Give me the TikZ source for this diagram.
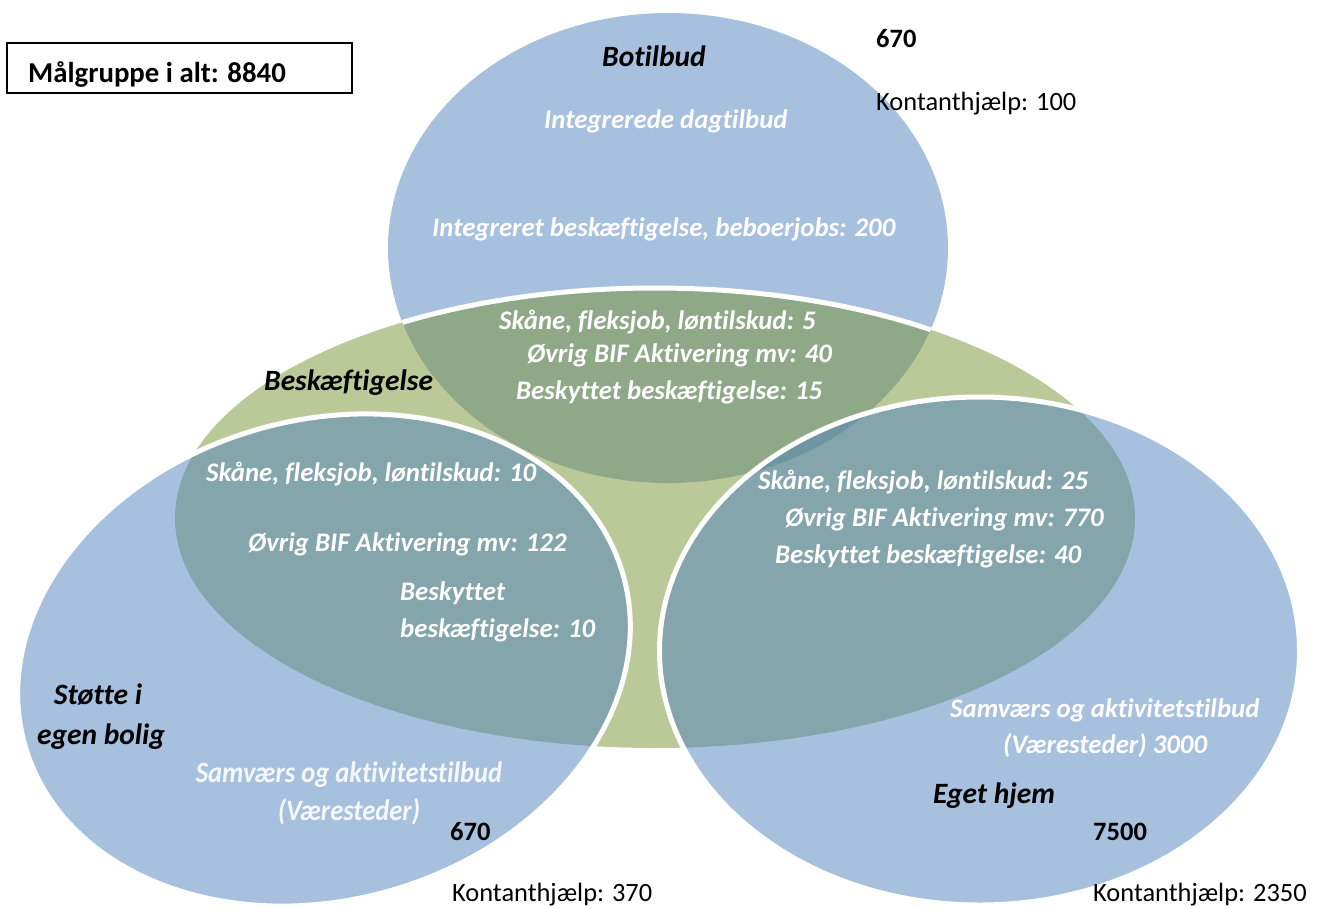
\documentclass[tikz,border=0pt]{standalone}
\usepackage{fontspec}
\setmainfont{Carlito}[Ligatures={NoCommon}]
\newfontfamily\condfont{Carlito}[FakeStretch=0.9, Ligatures={NoCommon}]
\definecolor{vblue}{RGB}{79,129,189}
\definecolor{vgreen}{RGB}{120,147,52}
\begin{document}
\begin{tikzpicture}[x=1pt,y=-1pt,
  wl/.style={inner sep=0pt, anchor=base west, text=white, font=\bfseries\itshape\fontsize{26.8}{30}\selectfont},
  bl/.style={inner sep=0pt, anchor=base west, text=black, font=\bfseries\itshape\fontsize{29.5}{33}\selectfont},
  num/.style={inner sep=0pt, anchor=base west, text=black, font=\bfseries\fontsize{26.5}{30}\selectfont},
  kh/.style={inner sep=0pt, anchor=base west, text=black, font=\fontsize{26.4}{30}\selectfont},
  cond/.style={inner sep=0pt, anchor=base, text=white, text opacity=0.9, font=\condfont\bfseries\itshape\fontsize{29.5}{33}\selectfont},
  bluefill/.style={fill=vblue, fill opacity=0.5},
  greenfill/.style={fill=vgreen, fill opacity=0.5},
  rim/.style={draw=white, line width=5pt},
  lefttilt/.style={rotate around={15.9:(324,660)}}
]
\useasboundingbox (0,0) rectangle (1319,908);
% fills
\fill[bluefill] (668,248) ellipse [x radius=280pt, y radius=235pt];
\fill[greenfill] (655,518) ellipse [x radius=480pt, y radius=230pt];
\begin{scope}
  \clip (668,248) ellipse [x radius=280pt, y radius=235pt];
  \draw[rim] (655,518) ellipse [x radius=480pt, y radius=230pt];
\end{scope}
\fill[bluefill, lefttilt] (324,660) ellipse [x radius=311pt, y radius=240pt];
\fill[bluefill] (979.5,651) ellipse [x radius=320pt, y radius=254pt];
\draw[rim, lefttilt] (324,660) ellipse [x radius=311pt, y radius=240pt];
\draw[rim] (979.5,651) ellipse [x radius=320pt, y radius=254pt];

% title box
\draw[line width=1.3pt] (7,43) rectangle (352,93);
\begin{scope}
  \clip (7,43) rectangle (352,86);
  \node[inner sep=0pt, anchor=base west, font=\bfseries\fontsize{28.8}{32}\selectfont] (title) at (28,82) {Målgruppe i alt: 8840};
\end{scope}

% top circle
\node[bl] (botilbud) at (602,66) {Botilbud};
\node[num] (n670a) at (876,47) {670};
\node[kh] (kh100) at (876,110) {Kontanthjælp: 100};
\node[wl] (integ1) at (544,128) {Integrerede dagtilbud};
\node[wl] (integ2) at (432,236) {Integreret beskæftigelse, beboerjobs: 200};

% centre
\node[wl] (c1) at (499,329) {Skåne, fleksjob, løntilskud: 5};
\node[wl] (c2) at (527,362) {Øvrig BIF Aktivering mv: 40};
\node[wl] (c3) at (516,399) {Beskyttet beskæftigelse: 15};
\node[bl] (besk) at (264,390) {Beskæftigelse};

% left
\node[wl] (l1) at (206,481) {Skåne, fleksjob, løntilskud: 10};
\node[wl] (l2) at (248,551) {Øvrig BIF Aktivering mv: 122};
\node[wl] (l3) at (400,600) {Beskyttet};
\node[wl] (l4) at (400,637) {beskæftigelse: 10};
\node[bl, anchor=base] (st1) at (98,704) {Støtte i};
\node[bl, anchor=base] (st2) at (101,744) {egen bolig};
\node[cond] (ls1) at (349,782) {Samværs og aktivitetstilbud};
\node[cond] (ls2) at (349,820) {(Væresteder)};
\node[num] (n670b) at (450,840) {670};
\node[kh] (kh370) at (452,901) {Kontanthjælp: 370};

% right
\node[wl] (r1) at (758,489) {Skåne, fleksjob, løntilskud: 25};
\node[wl] (r2) at (785,526) {Øvrig BIF Aktivering mv: 770};
\node[wl] (r3) at (775,563) {Beskyttet beskæftigelse: 40};
\node[wl] (rs1) at (950,717) {Samværs og aktivitetstilbud};
\node[wl] (rs2) at (1003,753) {(Væresteder) 3000};
\node[bl] (eget) at (933,803) {Eget hjem};
\node[num] (n7500) at (1093,840) {7500};
\node[kh] (kh2350) at (1093,901) {Kontanthjælp: 2350};
\end{tikzpicture}
\end{document}
